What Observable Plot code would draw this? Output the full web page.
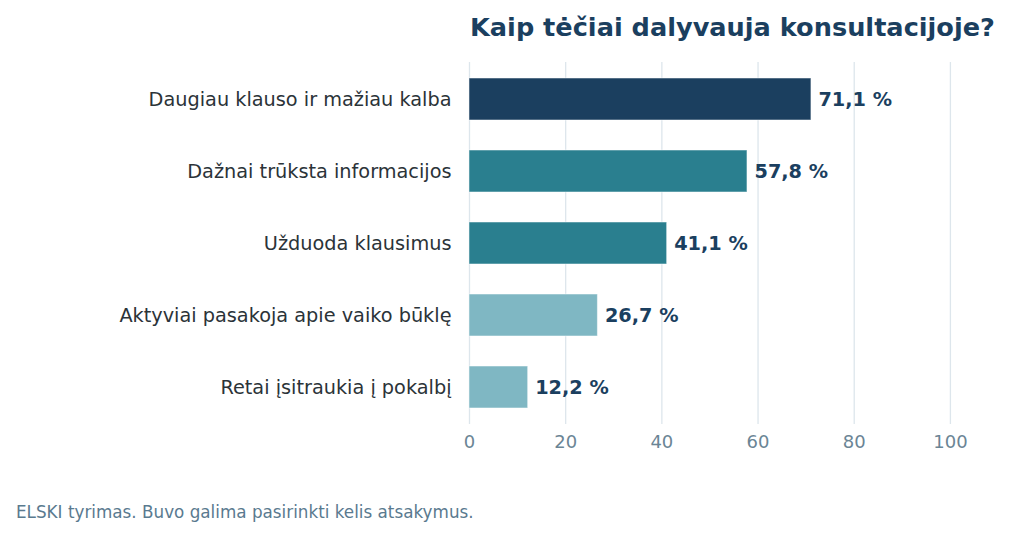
<!DOCTYPE html>
<html>
<head>
<meta charset="utf-8">
<script src="https://cdn.jsdelivr.net/npm/d3@7"></script>
<script src="https://cdn.jsdelivr.net/npm/@observablehq/plot@0.6"></script>
<style>
  html, body { margin: 0; padding: 0; background: #ffffff; }
  #wrap { position: relative; width: 1010px; height: 535px; font-family: "DejaVu Sans", sans-serif; overflow: hidden; }
  #title { position: absolute; left: 470px; top: 14.5px; font-size: 25.6px; line-height: 1; font-weight: bold; color: #1b3f5f; white-space: nowrap; }
  #caption { position: absolute; left: 16px; top: 504px; font-size: 16.8px; line-height: 1; color: #5a7a8f; white-space: nowrap; }
  #chart { position: absolute; left: 0; top: 0; }
</style>
</head>
<body>
<div id="wrap">
  <div id="chart"></div>
  <div id="title">Kaip tėčiai dalyvauja konsultacijoje?</div>
  <div id="caption">ELSKI tyrimas. Buvo galima pasirinkti kelis atsakymus.</div>
</div>
<script>
const categories = [
  "Daugiau klauso ir mažiau kalba",
  "Dažnai trūksta informacijos",
  "Užduoda klausimus",
  "Aktyviai pasakoja apie vaiko būklę",
  "Retai įsitraukia į pokalbį"
];
const values = [71.1, 57.8, 41.1, 26.7, 12.2];
const barColors = ["#1b3f5f", "#2a7f8f", "#2a7f8f", "#7fb7c3", "#7fb7c3"];
const xTicks = [0, 20, 40, 60, 80, 100];

const data = categories.map((c, i) => ({ cat: c, value: values[i], color: barColors[i] }));
const fmt = v => v.toFixed(1).replace(".", ",") + " %";

const chart = Plot.plot({
  width: 1010,
  height: 470,
  marginLeft: 469,
  marginRight: 12,
  marginTop: 62,
  marginBottom: 46,
  style: { fontFamily: "DejaVu Sans, sans-serif", background: "transparent", overflow: "visible" },
  x: { domain: [0, 110] },
  y: { domain: categories, paddingInner: 0.42, paddingOuter: 0.21 },
  color: { type: "identity" },
  marks: [
    Plot.gridX(xTicks, { stroke: "#dde6ec", strokeOpacity: 1, strokeWidth: 1.3 }),
    Plot.barX(data, { x: "value", y: "cat", fill: "color", stroke: "#ffffff", strokeOpacity: 0.5, strokeWidth: 1 }),
    Plot.text(data, { x: "value", y: "cat", text: d => fmt(d.value), textAnchor: "start", dx: 7, fontSize: 19.3, fontWeight: "bold", fill: "#1b3f5f" }),
    Plot.axisX({ ticks: xTicks, tickSize: 0, tickPadding: 11, fontSize: 18, fill: "#6b8595", label: null }),
    Plot.axisY({ tickSize: 0, tickPadding: 18, fontSize: 19.3, fill: "#2b3338", label: null })
  ]
});
document.getElementById("chart").appendChild(chart);
</script>
</body>
</html>
